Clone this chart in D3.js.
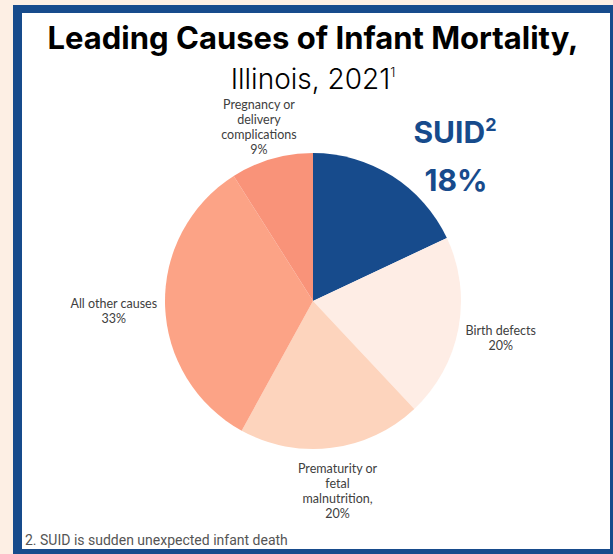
<!DOCTYPE html>
<html lang="en">
<head>
    <meta charset="UTF-8">
    <title>Leading Causes of Infant Mortality, Illinois, 2021</title>
    <script src="https://cdn.jsdelivr.net/npm/d3@7"></script>
    <style>
        body {
            margin: 0;
            background: #fdefe4;
        }
        svg {
            display: block;
        }
        .lbl {
            font-family: Lato, sans-serif;
            font-size: 12.5px;
            fill: #404040;
        }
    </style>
</head>
<body>
    <div id="chart"></div>

    <script>
        // slices, clockwise from 12 o'clock
        const causes = ["SUID", "Birth defects", "Prematurity or fetal malnutrition", "All other causes", "Pregnancy or delivery complications"];
        const shares = [18, 20, 20, 33, 9];
        const labelLines = [
            null,
            ["Birth defects", "20%"],
            ["Prematurity or", "fetal", "malnutrition,", "20%"],
            ["All other causes", "33%"],
            ["Pregnancy or", "delivery", "complications", "9%"]
        ];
        const colors = ["#174b8c", "#feede5", "#fdd4bd", "#fca386", "#f99379"];

        const width = 613;
        const height = 554;
        const cx = 313, cy = 301, radius = 148;

        const svg = d3.select("#chart")
            .append("svg")
            .attr("width", width)
            .attr("height", height);

        // framed panel
        svg.append("rect")
            .attr("x", 13).attr("y", 5)
            .attr("width", 620).attr("height", 560)
            .attr("fill", "#174b8c");
        svg.append("rect")
            .attr("x", 22).attr("y", 13)
            .attr("width", 588).attr("height", 536)
            .attr("fill", "#ffffff");

        // title
        svg.append("text")
            .attr("x", cx).attr("y", 49)
            .attr("text-anchor", "middle")
            .style("font-family", "Inter, sans-serif")
            .style("font-weight", 700)
            .style("font-size", "31px")
            .style("fill", "#000")
            .text("Leading Causes of Infant Mortality,");

        const sub = svg.append("text")
            .attr("x", cx).attr("y", 89)
            .attr("text-anchor", "middle")
            .style("font-family", "Inter, sans-serif")
            .style("font-weight", 300)
            .style("font-size", "28px")
            .style("fill", "#000");
        sub.append("tspan").text("Illinois, 2021");
        sub.append("tspan").attr("dy", -12).style("font-size", "13px").text("1");

        const pie = d3.pie().value(d => d).sort(null);
        const arc = d3.arc().innerRadius(0).outerRadius(radius);
        const arcs = pie(shares);

        const g = svg.append("g").attr("transform", `translate(${cx},${cy})`);

        g.selectAll("path")
            .data(arcs)
            .enter()
            .append("path")
            .attr("d", arc)
            .attr("fill", (d, i) => colors[i]);

        // outside labels (SUID gets the big callout instead)
        const lineH = 15;
        arcs.forEach((d, i) => {
            const lines = labelLines[i];
            if (!lines) return;
            const a = (d.startAngle + d.endAngle) / 2;
            const t = g.append("text").attr("class", "lbl").attr("text-anchor", "middle");
            lines.forEach((s, k) => {
                t.append("tspan").attr("x", 0).attr("y", k * lineH).text(s);
            });
            const bb = t.node().getBBox();
            const r = radius + 8;
            const px = Math.sin(a) * r + Math.sin(a) * bb.width / 2;
            const py = -Math.cos(a) * r - Math.cos(a) * bb.height / 2;
            t.attr("transform", `translate(${px},${py - (bb.y + bb.height / 2) + 5})`);
        });

        // SUID callout
        const suid = svg.append("text")
            .attr("x", 455).attr("y", 143)
            .attr("text-anchor", "middle")
            .style("font-family", "Inter, sans-serif")
            .style("font-weight", 700)
            .style("font-size", "30px")
            .style("fill", "#174b8c");
        suid.append("tspan").text(causes[0]);
        suid.append("tspan").attr("dy", -12).style("font-size", "18px").text("2");

        svg.append("text")
            .attr("x", 456).attr("y", 191)
            .attr("text-anchor", "middle")
            .style("font-family", "Inter, sans-serif")
            .style("font-weight", 700)
            .style("font-size", "30px")
            .style("fill", "#174b8c")
            .text(shares[0] + "%");

        // footnote
        svg.append("text")
            .attr("x", 25).attr("y", 545)
            .style("font-family", "Roboto, sans-serif")
            .style("font-size", "14px")
            .style("fill", "#555")
            .text("2. SUID is sudden unexpected infant death");
    </script>
</body>
</html>
